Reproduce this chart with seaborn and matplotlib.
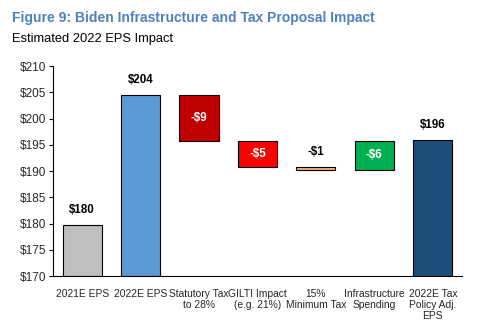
import matplotlib
matplotlib.use("Agg")
import matplotlib.pyplot as plt
import seaborn as sns
import pandas as pd

categories = ["2021E EPS", "2022E EPS", "Statutory Tax\nto 28%", "GILTI Impact\n(e.g. 21%)",
              "15%\nMinimum Tax", "Infrastructure\nSpending", "2022E Tax\nPolicy Adj.\nEPS"]
bar_bottoms = [170, 170, 195.7, 190.7, 190.3, 190.3, 170]
bar_tops = [179.7, 204.5, 204.5, 195.7, 190.7, 195.7, 195.9]
value_labels = ["$180", "$204", "-$9", "-$5", "-$1", "-$6", "$196"]
colors = ["#BFBFBF", "#5B9BD5", "#C00000", "#FF0000", "#F4B183", "#00B050", "#1F4E79"]
label_inside = [False, False, True, True, False, True, False]
yticks = [170, 175, 180, 185, 190, 195, 200, 205, 210]

sns.set_theme(style="white")
plt.rcParams["font.family"] = ["Liberation Sans", "DejaVu Sans"]

df = pd.DataFrame({"cat": categories, "top": bar_tops, "bottom": bar_bottoms})

fig = plt.figure(figsize=(4.84, 3.29), dpi=100)
ax = fig.add_axes([0.1095, 0.161, 0.845, 0.638])
sns.barplot(data=df, x="cat", y="top", hue="cat", palette=colors, legend=False,
            width=0.67, edgecolor="black", linewidth=0.8, saturation=1, ax=ax)

# turn the bars into floating waterfall bars using the data bottoms
for patch in ax.patches:
    xc = patch.get_x() + patch.get_width() / 2
    i = int(round(xc))
    patch.set_y(bar_bottoms[i])
    patch.set_height(bar_tops[i] - bar_bottoms[i])

for i, (b, t, lab, inside) in enumerate(zip(bar_bottoms, bar_tops, value_labels, label_inside)):
    if inside:
        ax.text(i, (b + t) / 2, lab, ha="center", va="center", color="white",
                fontsize=8.3, fontweight="bold")
    else:
        ax.text(i, t + 1.7, lab, ha="center", va="bottom", color="black",
                fontsize=8.3, fontweight="bold")

ax.set_ylim(170, 210)
ax.set_xlim(-0.5, 6.5)
ax.set_yticks(yticks)
ax.set_yticklabels([f"${v}" for v in yticks], fontsize=8.5)
ax.tick_params(axis="y", left=True, length=3, width=0.8, pad=2, color="black")
ax.tick_params(axis="x", bottom=False, pad=3)
ax.set_xticks(range(len(categories)))
ax.set_xticklabels(categories, fontsize=7.4, linespacing=1.15)
ax.set_xlabel("")
ax.set_ylabel("")
for s in ["top", "right"]:
    ax.spines[s].set_visible(False)
for s in ["left", "bottom"]:
    ax.spines[s].set_color("black")
    ax.spines[s].set_linewidth(0.8)

fig.text(0.025, 0.945, "Figure 9: Biden Infrastructure and Tax Proposal Impact",
         color="#4F81BD", fontsize=10, fontweight="bold", ha="left", va="center")
fig.text(0.025, 0.88, "Estimated 2022 EPS Impact", color="black", fontsize=9.3,
         ha="left", va="center")

fig.savefig("out.png", dpi=100)
